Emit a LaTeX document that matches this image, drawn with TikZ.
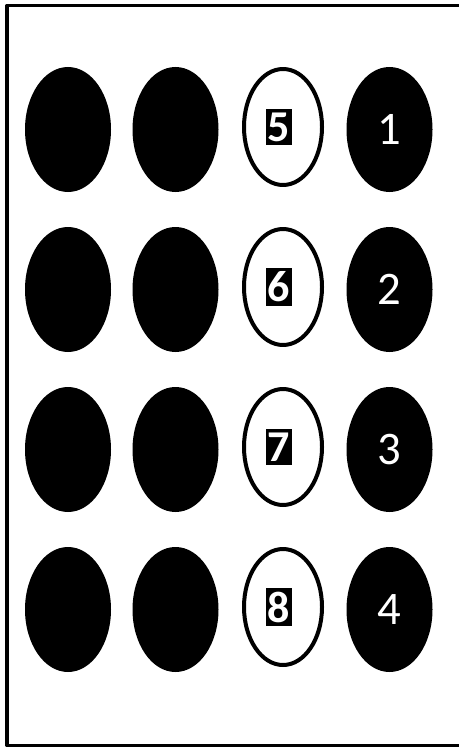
\documentclass[tikz,border=0pt]{standalone}
\usepackage{fontspec}
\setmainfont{Carlito}
\usetikzlibrary{shapes.geometric}

\tikzset{
  darkdot/.style={ellipse,fill=black,minimum width=64.5pt,minimum height=93.75pt,inner sep=0pt},
  lightdot/.style={ellipse,draw=black,line width=3pt,fill=white,minimum width=58.5pt,minimum height=87pt,inner sep=0pt},
  dotnum/.style={font=\fontsize{35}{35}\selectfont,text=white},
  boxnum/.style={font=\fontsize{33}{33}\selectfont\bfseries,text=white,fill=black,
    inner xsep=1.5pt,inner ysep=3pt}
}

\begin{document}
\begin{tikzpicture}[x=0.75pt,y=-0.75pt,line join=round]
  \useasboundingbox (0,0) rectangle (459,749);
  \fill[white] (0,0) rectangle (459,749);
  \draw[line width=2.6pt] (459,5.5) -- (7,5.5) -- (7,745.5) -- (459,745.5);
  \foreach \r/\dk/\lt in {1/1/5,2/2/6,3/3/7,4/4/8} {
    \node[darkdot] (A\r) at (68,{129.5+160*(\r-1)}) {};
    \node[darkdot] (B\r) at (175.5,{129.5+160*(\r-1)}) {};
    \node[lightdot] (C\r) at (283,{127+160*(\r-1)}) {};
    \node[darkdot] (D\r) at (389.5,{129.5+160*(\r-1)}) {};
    \node[boxnum] (CN\r) at ([xshift=-3]C\r.center) {\lt};
    \node[dotnum] (DN\r) at (D\r.center) {\dk};
  }
\end{tikzpicture}
\end{document}
